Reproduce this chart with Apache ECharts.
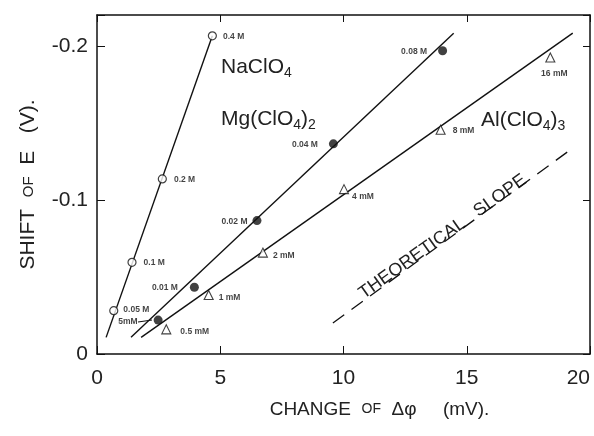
<!DOCTYPE html>
<html><head><meta charset="utf-8">
<script src="https://cdn.jsdelivr.net/npm/echarts@6/dist/echarts.min.js"></script>
<style>html,body{margin:0;padding:0;background:#fff}#c{width:594px;height:436px}</style>
</head><body><div id="c"></div>
<script>
// NaClO4 (open circles)
const naX = [0.68, 1.42, 2.65, 4.68];
const naY = [-0.0281, -0.0595, -0.1136, -0.2065];
const naLabels = ['0.05 M', '0.1 M', '0.2 M', '0.4 M'];
const naFitX = [0.37, 4.68];
const naFitY = [-0.0108, -0.2065];
// Mg(ClO4)2 (filled circles)
const mgX = [2.48, 3.95, 6.49, 9.59, 14.02];
const mgY = [-0.0220, -0.0433, -0.0866, -0.1364, -0.1968];
const mgLabels = ['5mM', '0.01 M', '0.02 M', '0.04 M', '0.08 M'];
const mgFitX = [1.38, 14.47];
const mgFitY = [-0.0108, -0.2082];
// Al(ClO4)3 (open triangles)
const alX = [2.81, 4.53, 6.73, 10.02, 13.94, 18.39];
const alY = [-0.0160, -0.0383, -0.0658, -0.1070, -0.1455, -0.1924];
const alLabels = ['0.5 mM', '1 mM', '2 mM', '4 mM', '8 mM', '16 mM'];
const alFitX = [1.79, 19.3];
const alFitY = [-0.0108, -0.2082];
// Theoretical slope (dashed)
const theoX = [9.57, 19.09];
const theoY = [-0.0201, -0.1312];
// Axis ticks
const xTicks = [0, 5, 10, 15, 20];
const yTicks = [0, -0.1, -0.2];

// label placement (style only)
const naPos = [['right', [0, -1]], ['right', [2, 0]], ['right', [2, 1]], ['right', [1, 1]]];
const mgPos = [['left', [-11, 2]], ['left', [-7, 0]], ['left', [0, 1]], ['left', [-6, 1]], ['left', [-6, 1]]];
const alPos = [['right', [4, 2]], ['right', [0, 3]], ['right', [0, 3]], ['right', [-2, 8]], ['right', [2, 1]], ['bottom', [4, 2]]];

const INK = '#111';
const ptLabel = {fontSize: 8.5, fontWeight: 'bold', color: INK, fontFamily: 'Liberation Sans'};

function pts(xs, ys, labels, pos) {
  return xs.map((x, i) => ({
    value: [x, ys[i]],
    label: Object.assign({show: true, formatter: labels[i], position: pos[i][0], offset: pos[i][1]}, ptLabel)
  }));
}
function zip(xs, ys) { return xs.map((x, i) => [x, ys[i]]); }

const chart = echarts.init(document.getElementById('c'), null, {renderer: 'canvas'});
const fitStyle = {color: INK, width: 1.4};
const tickFmt = v => {
  const r = Math.round(v * 10) / 10;
  if (Math.abs(v - r) > 1e-9) return '';
  return r === 0 ? '0' : r.toFixed(1);
};
const axisFont = {fontFamily: 'Liberation Sans', color: '#222', fontSize: 21};
const lineSty = {onZero: false, lineStyle: {color: INK, width: 1.5}};

chart.setOption({
  animation: false,
  backgroundColor: '#fff',
  grid: {left: 97, right: 4, top: 15, bottom: 82},
  xAxis: [{
    type: 'value', min: xTicks[0], max: xTicks[xTicks.length - 1], interval: 5, position: 'bottom',
    axisLine: lineSty,
    axisTick: {inside: true, length: 8, lineStyle: {color: INK}},
    splitLine: {show: false},
    axisLabel: Object.assign({margin: 14, alignMaxLabel: 'right'}, axisFont),
    name: '{a|CHANGE  }{b|OF}{a|  Δφ     (mV).}',
    nameLocation: 'middle', nameGap: 46,
    nameTextStyle: {padding: [0, 0, 0, 72], rich: {a: {fontSize: 19, color: '#222', fontFamily: 'Liberation Sans'}, b: {fontSize: 14, color: '#222', fontFamily: 'Liberation Sans'}}}
  }, {
    type: 'value', min: xTicks[0], max: xTicks[xTicks.length - 1], interval: 5, position: 'top',
    axisLine: lineSty,
    axisTick: {inside: true, length: 7, lineStyle: {color: INK}},
    axisLabel: {show: false}, splitLine: {show: false}
  }],
  yAxis: [{
    type: 'value', inverse: true, min: -0.22, max: 0, splitNumber: 2, position: 'left',
    axisLine: lineSty,
    axisTick: {inside: true, length: 8, lineStyle: {color: INK}},
    splitLine: {show: false},
    axisLabel: Object.assign({margin: 9, formatter: tickFmt}, axisFont),
    name: '{a|SHIFT  }{b|OF}{a|  E   (V).}',
    nameLocation: 'middle', nameGap: 58, nameRotate: 90,
    nameTextStyle: {rich: {a: {fontSize: 21, color: '#222', fontFamily: 'Liberation Sans'}, b: {fontSize: 15, color: '#222', fontFamily: 'Liberation Sans'}}}
  }, {
    type: 'value', inverse: true, min: -0.22, max: 0, splitNumber: 2, position: 'right',
    axisLine: lineSty,
    axisTick: {inside: true, length: 7, lineStyle: {color: INK}},
    axisLabel: {show: false}, splitLine: {show: false}
  }],
  series: [
    {type: 'line', data: zip(naFitX, naFitY), symbol: 'none', lineStyle: fitStyle, z: 2},
    {type: 'line', data: zip(mgFitX, mgFitY), symbol: 'none', lineStyle: fitStyle, z: 2},
    {type: 'line', data: zip(alFitX, alFitY), symbol: 'none', lineStyle: fitStyle, z: 2},
    {type: 'line', data: zip(theoX, theoY), symbol: 'none', lineStyle: {color: INK, width: 1.3, type: [14, 9]}, z: 2},
    {type: 'scatter', data: pts(naX, naY, naLabels, naPos), symbol: 'circle', symbolSize: 8,
     itemStyle: {color: '#fff', borderColor: INK, borderWidth: 1.2}, z: 3},
    {type: 'scatter', data: pts(mgX, mgY, mgLabels, mgPos), symbol: 'circle', symbolSize: 9,
     itemStyle: {color: INK, borderColor: INK, borderWidth: 0}, z: 3},
    {type: 'scatter', data: pts(alX, alY, alLabels, alPos), symbol: 'triangle', symbolSize: 9,
     itemStyle: {color: '#fff', borderColor: INK, borderWidth: 1.1}, z: 3}
  ],
  graphic: [
    {type: 'text', left: 221, top: 57, style: {
      text: 'NaClO{s|4}', font: '21px "Liberation Sans"', fill: '#222',
      rich: {s: {fontSize: 14, padding: [12, 0, 0, 0], fontFamily: 'Liberation Sans', fill: '#222'}}}},
    {type: 'text', left: 221, top: 109, style: {
      text: 'Mg(ClO{s|4}){s|2}', font: '21px "Liberation Sans"', fill: '#222',
      rich: {s: {fontSize: 14, padding: [12, 0, 0, 0], fontFamily: 'Liberation Sans', fill: '#222'}}}},
    {type: 'text', left: 481, top: 110, style: {
      text: 'Al(ClO{s|4}){s|3}', font: '21px "Liberation Sans"', fill: '#222',
      rich: {s: {fontSize: 14, padding: [12, 0, 0, 0], fontFamily: 'Liberation Sans', fill: '#222'}}}},
    {type: 'text', x: 448, y: 244, rotation: 0.62, style: {
      text: 'THEORETICAL   SLOPE', font: '18px "Liberation Sans"', fill: '#222',
      align: 'center', verticalAlign: 'bottom'}},
    {type: 'line', shape: {x1: 138, y1: 322, x2: 152, y2: 320}, style: {stroke: INK, lineWidth: 1.2}}
  ]
});
</script></body></html>
